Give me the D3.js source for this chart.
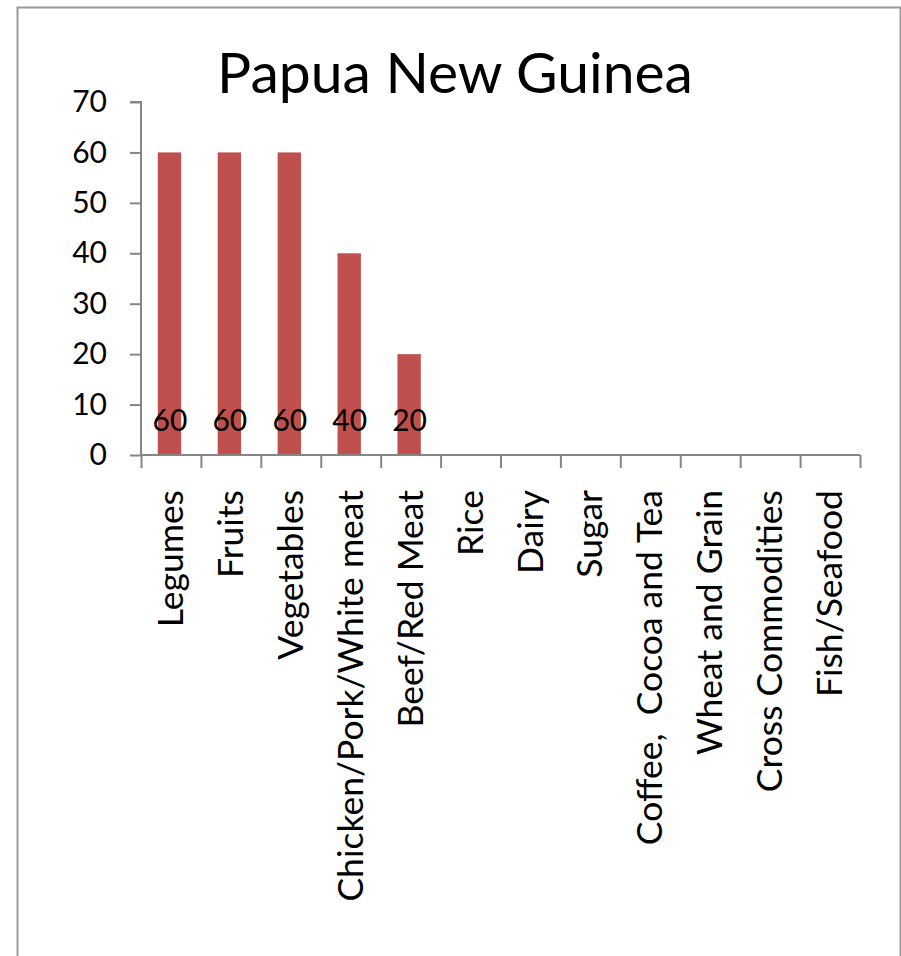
<!DOCTYPE html>
<html>
<head>
<meta charset="utf-8">
<script src="https://cdn.jsdelivr.net/npm/d3@7"></script>
<style>
  html, body { margin: 0; padding: 0; background: #fff; }
  svg { display: block; }
  text { font-family: Lato, "Open Sans", sans-serif; fill: #000; }
</style>
</head>
<body>
<svg id="chart" width="901" height="956"></svg>
<script>
const title = "Papua New Guinea";
const categories = ["Legumes", "Fruits", "Vegetables", "Chicken/Pork/White meat", "Beef/Red Meat",
  "Rice", "Dairy", "Sugar", "Coffee,  Cocoa and Tea", "Wheat and Grain", "Cross Commodities", "Fish/Seafood"];
const values = [60, 60, 60, 40, 20, null, null, null, null, null, null, null];
const yTicks = [0, 10, 20, 30, 40, 50, 60, 70];

(function () {
const svg = d3.select("#chart");

// outer border
svg.append("rect")
  .attr("x", 17.5).attr("y", 7.5)
  .attr("width", 883).attr("height", 960)
  .attr("fill", "#fff").attr("stroke", "#9a9a9a").attr("stroke-width", 2);

const pLeft = 141, pRight = 860, pTop = 102, pBottom = 455;

const x = d3.scaleBand().domain(categories).range([pLeft, pRight]).paddingInner(0).paddingOuter(0);
const barW = x.bandwidth() * 0.39;
const barX = c => x(c) + (x.bandwidth() - barW) / 2 - 1.5;
const y = d3.scaleLinear().domain([0, 70]).range([pBottom, pTop]);

// title
svg.append("text")
  .attr("x", 455).attr("y", 93)
  .attr("text-anchor", "middle")
  .style("font-size", "57px")
  .text(title);

const barData = categories.map((c, i) => ({c, v: values[i]})).filter(d => d.v != null);

// bars
svg.append("g").selectAll("rect")
  .data(barData)
  .join("rect")
  .attr("x", d => barX(d.c))
  .attr("width", barW)
  .attr("y", d => y(d.v))
  .attr("height", d => y(0) - y(d.v))
  .attr("fill", "#C0504D");

// y axis
const yAxis = svg.append("g")
  .attr("transform", `translate(${pLeft},0)`)
  .call(d3.axisLeft(y).tickValues(yTicks).tickSize(11).tickPadding(23).tickFormat(d3.format("d")));
yAxis.select(".domain").attr("stroke", "#868686").attr("stroke-width", 2).attr("d", `M-11,${pTop}H0V${pBottom}`);
yAxis.selectAll(".tick line").attr("stroke", "#868686").attr("stroke-width", 2);
yAxis.selectAll(".tick text").style("font-size", "30px").style("font-family", "Lato, sans-serif").attr("fill", "#000");

// x axis: tick marks at category boundaries
const xIdx = d3.scaleLinear().domain([0, categories.length]).range([pLeft, pRight]);
const xAxis = svg.append("g")
  .attr("transform", `translate(0,${pBottom})`)
  .call(d3.axisBottom(xIdx).tickValues(d3.range(categories.length + 1)).tickSize(13).tickFormat(""));
xAxis.select(".domain").attr("stroke", "#868686").attr("stroke-width", 2).attr("d", `M${pLeft},0H${pRight}`);
xAxis.selectAll(".tick line").attr("stroke", "#868686").attr("stroke-width", 2);

// category labels
const xLab = svg.append("g")
  .attr("transform", `translate(0,${pBottom})`)
  .call(d3.axisBottom(x).tickSize(0).tickPadding(0));
xLab.select(".domain").remove();
xLab.selectAll(".tick text")
  .style("font-size", "35.5px").style("font-family", "Lato, sans-serif").attr("fill", "#000")
  .attr("text-anchor", "end")
  .attr("transform", "rotate(-90)")
  .attr("x", -35).attr("y", 0).attr("dy", "0.34em")
  .style("white-space", "pre");

// data labels
svg.append("g").selectAll("text")
  .data(barData)
  .join("text")
  .attr("x", d => x(d.c) + x.bandwidth() / 2 - 1)
  .attr("y", y(0) - 24)
  .attr("text-anchor", "middle")
  .style("font-size", "30px")
  .text(d => d.v);
})();
</script>
</body>
</html>
